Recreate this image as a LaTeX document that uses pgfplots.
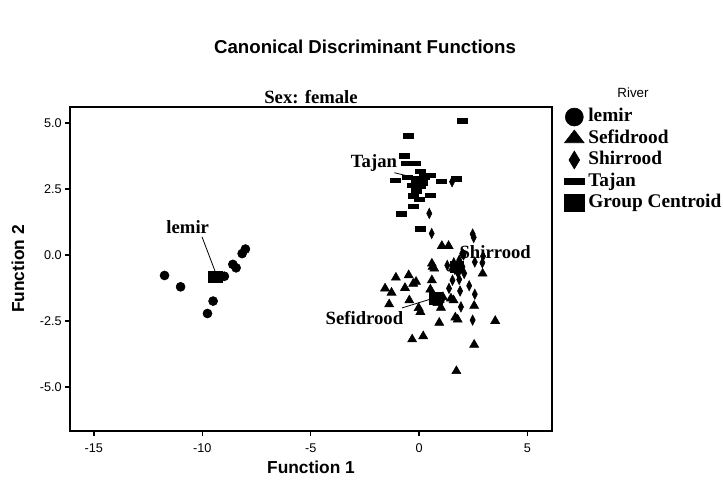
\documentclass[border=0pt]{standalone}
\usepackage{pgfplots}
\pgfplotsset{compat=1.18}
\usepackage{fontspec}
\setmainfont{Liberation Serif}
\setsansfont{Liberation Sans}

\begin{document}
\begin{tikzpicture}[x=1pt,y=1pt]
\useasboundingbox (0,0) rectangle (542.25,362.25);
\node[font=\sffamily\bfseries\fontsize{14}{16}\selectfont] at (273.75,327) {Canonical Discriminant Functions};
\node[font=\sffamily\fontsize{10}{12}\selectfont] at (474.75,292.5) {River};
\begin{axis}[
    at={(52.5pt,39pt)}, anchor=south west,
    width=361.5pt, height=243pt, scale only axis,
    xmin=-16.1, xmax=6.13, ymin=-6.67, ymax=5.6,
    xtick={-15,-10,-5,0,5},
    ytick={-5,-2.5,0,2.5,5},
    yticklabel style={xshift=1pt, /pgf/number format/.cd, fixed, fixed zerofill, precision=1},
    /pgf/number format/assume math mode=true,
    tick label style={font=\sffamily\fontsize{9.5}{11}\selectfont},
    xticklabel style={yshift=-2pt},
    tick align=outside, xtick pos=bottom, ytick pos=left,
    major tick length=3.75pt,
    every tick/.style={black, line width=1pt},
    axis line style={black, line width=1pt},
    xlabel={Function 1}, ylabel={Function 2},
    label style={font=\sffamily\bfseries\fontsize{13}{15}\selectfont},
    xlabel style={at={(axis description cs:0.5,-0.111)}, anchor=center},
    ylabel style={at={(axis description cs:-0.108,0.5)}, anchor=center},
    title={Sex: female},
    every axis title shift=0pt,
    title style={at={(axis description cs:0.5,1.031)}, anchor=center, font=\bfseries\fontsize{14}{16}\selectfont},
    clip=false,
    legend style={at={(axis description cs:1.025,1.003)}, anchor=north west, draw=none, fill=none,
        font=\bfseries\fontsize{14.5}{15}\selectfont, row sep=0pt, inner sep=0pt,
        nodes={inner sep=1pt, text height=10.6pt, text depth=3.5pt},
        /tikz/every odd column/.append style={column sep=2pt}},
    legend cell align=left,
    legend image code/.code={\draw[#1] plot coordinates {(8pt,0pt)};},
]
% lemir
\addplot[only marks, mark=*, mark size=3.4pt, black,
    legend image post style={mark size=6.75pt}] coordinates {
(-11.74,-0.78) (-11.0,-1.21) (-9.50,-1.75) (-9.76,-2.22) (-8.98,-0.81)
(-8.59,-0.36) (-8.44,-0.49) (-8.16,0.05) (-8.01,0.22) (-9.30,-0.84)
};
\addlegendentry{lemir}
% Sefidrood
\addplot[only marks, mark=triangle*, mark size=3.9pt, black,
    legend image post style={mark size=8.5pt, mark options={yscale=0.75}}] coordinates {
(-1.07,-0.86) (-0.48,-0.77) (-0.14,-1.02) (-0.27,-1.09) (-0.65,-1.25)
(-1.57,-1.27) (-1.27,-1.43) (-1.38,-1.87) (-0.45,-1.72) (-0.02,-2.01)
(0.06,-2.16) (1.05,0.34) (1.36,0.34) (0.59,-0.33) (0.70,-0.52)
(0.59,-0.96) (0.52,-1.31) (0.93,-2.57) (1.67,-2.37) (1.78,-2.45)
(1.01,-2.00) (3.51,-2.50) (2.93,-0.71) (2.54,-1.93) (2.54,-3.40)
(-0.32,-3.20) (0.19,-3.08) (1.72,-4.40) (1.47,-1.65) (1.59,-1.72)
(0.85,-1.82) (1.55,-0.52) (0.62,-0.45) (1.10,-1.60) (0.95,-1.70)
};
\addlegendentry{Sefidrood}
% Shirrood
\addplot[only marks, mark=diamond*, mark size=3.9pt, black, mark options={xscale=0.67},
    legend image post style={mark size=6.75pt, mark options={xscale=0.8}}] coordinates {
(1.52,2.77) (0.47,1.57) (0.58,0.81) (2.47,0.79) (2.52,0.66)
(2.57,-0.27) (2.92,-0.30) (1.54,-0.96) (1.85,-0.93) (2.31,-1.17)
(1.89,-1.37) (1.38,-1.27) (2.57,-1.49) (1.93,-1.97) (2.47,-2.47)
(1.09,-1.65) (2.08,-0.70) (1.70,-0.52) (1.99,0.05) (1.85,-0.20)
(1.60,-0.30) (2.00,-0.45) (1.80,-0.70) (2.05,0.00) (1.65,-0.55)
(2.95,-0.05) (1.30,-0.40)
};
\addlegendentry{Shirrood}
% Tajan
\addplot[only marks, mark=square*, mark size=3.75pt, black, mark options={yscale=0.45},
    legend image post style={mark size=7.5pt, mark options={yscale=0.3}}] coordinates {
(2.00,5.08) (-0.50,4.52) (-0.68,3.75) (-0.61,3.46) (-0.19,3.46)
(0.05,3.17) (-1.12,2.83) (-0.54,2.93) (0.53,3.02) (1.03,2.79)
(1.72,2.89) (-0.15,2.77) (0.15,2.73) (-0.15,2.43) (-0.28,2.24)
(0.50,2.26) (0.03,2.10) (-0.26,1.84) (-0.80,1.56) (0.05,0.99)
(-0.30,2.64) (0.25,2.95) (-0.05,2.90)
};
\addlegendentry{Tajan}
% Group centroids
\addplot[only marks, mark=square*, mark size=5pt, black, mark options={yscale=0.88},
    legend image post style={mark size=7.5pt, mark options={yscale=0.85}}] coordinates {
(-9.40,-0.83) (0.78,-1.65) (1.75,-0.45) (0.00,2.75)
};
\addlegendentry{Group Centroid}
% centroid labels
\draw[black, line width=0.6pt] (axis cs:-10.01,0.68) -- (axis cs:-9.40,-0.64);
\draw[black, line width=0.6pt] (axis cs:-1.14,3.11) -- (axis cs:-0.22,2.93);
\draw[black, line width=0.6pt] (axis cs:-0.79,-2.01) -- (axis cs:0.47,-1.69);
\begin{scope}[every node/.style={font=\bfseries\fontsize{14}{16}\selectfont, inner sep=0pt}]
\node at (axis cs:-10.67,1.06) {lemir};
\node at (axis cs:-2.08,3.46) {Tajan};
\node at (axis cs:3.51,0.11) {Shirrood};
\node at (axis cs:-2.52,-2.41) {Sefidrood};
\end{scope}
\end{axis}
\end{tikzpicture}
\end{document}
